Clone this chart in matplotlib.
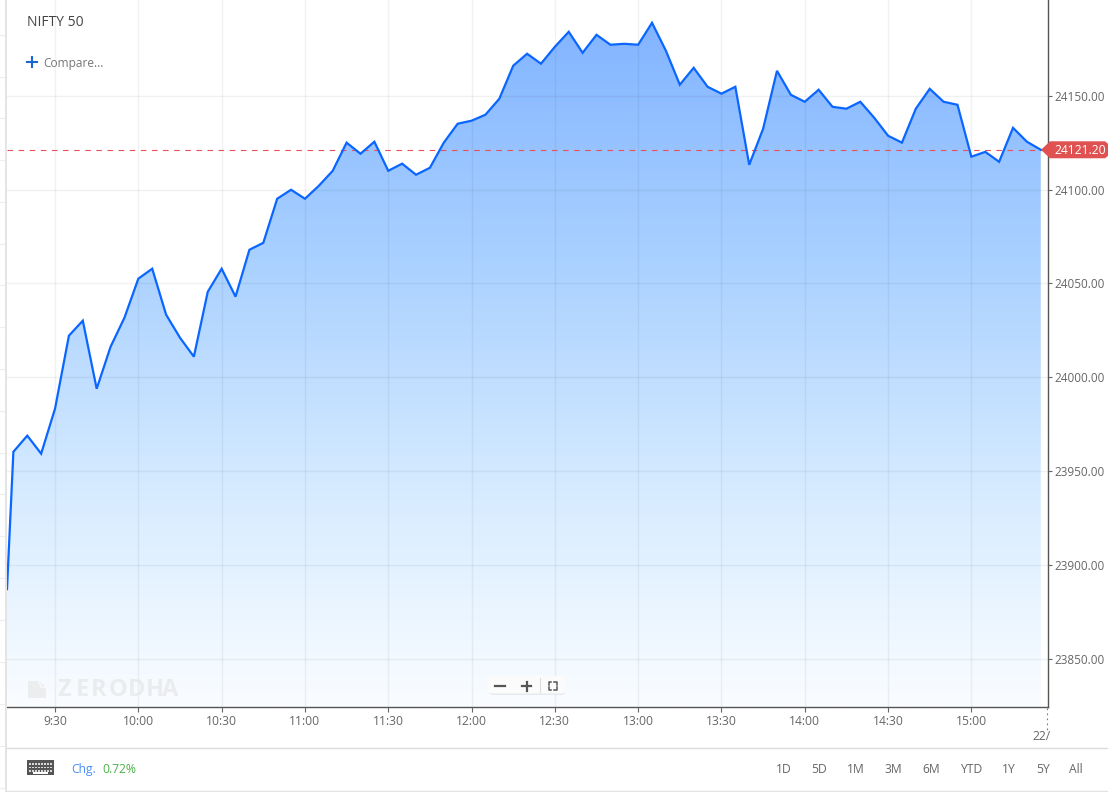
import numpy as np
import matplotlib
matplotlib.use("Agg")
import matplotlib.pyplot as plt
from matplotlib.colors import LinearSegmentedColormap
from matplotlib.patches import FancyBboxPatch, Polygon, Rectangle

plt.rcParams['font.family'] = ['Open Sans', 'DejaVu Sans']

W, H = 1108, 792

# minutes since midnight: opening tick, then one point every 5 minutes from 9:15
start_minute = 552.7
prices = [23887.0,
          23960.2, 23968.8, 23959.2, 23983.2, 24022.1, 24030.1, 23993.8, 24016.2,
          24031.7, 24052.5, 24057.8, 24033.3, 24021.0, 24010.9, 24045.5, 24057.8,
          24042.9, 24067.9, 24071.6, 24095.1, 24099.9, 24095.1, 24102.0, 24110.0,
          24125.0, 24119.1, 24125.5, 24110.0, 24113.8, 24107.9, 24111.6, 24125.0,
          24135.1, 24136.7, 24139.9, 24148.4, 24166.0, 24172.4, 24167.1, 24176.1,
          24184.1, 24172.9, 24182.5, 24177.2, 24177.7, 24177.2, 24188.9, 24174.0,
          24155.9, 24164.9, 24154.8, 24151.1, 24154.8, 24113.2, 24132.4, 24163.3,
          24150.5, 24146.8, 24153.2, 24144.1, 24143.1, 24146.8, 24138.3, 24128.7,
          24125.0, 24143.1, 24153.7, 24146.8, 24145.2, 24117.5, 24120.1, 24114.8,
          24132.9, 24125.5, 24121.2]
times = np.r_[start_minute, 555 + 5 * np.arange(len(prices) - 1)]
last_price = 24121.20

xtick_minutes = [570, 600, 630, 660, 690, 720, 750, 780, 810, 840, 870, 900]
xtick_labels = ['9:30', '10:00', '10:30', '11:00', '11:30', '12:00', '12:30',
                '13:00', '13:30', '14:00', '14:30', '15:00']
ytick_values = [23850, 23900, 23950, 24000, 24050, 24100, 24150]
range_labels = ['1D', '5D', '1M', '3M', '6M', 'YTD', '1Y', '5Y', 'All']
range_x = [784, 819, 856, 893, 931, 971, 1009, 1043, 1076]
strip_y = [35, 76.5, 118, 160, 202, 244, 285, 327, 369, 411, 453, 494, 536, 578,
           620, 662, 704, 746, 788]
watermark_letters = list('ZERODHA')
watermark_x = [64.5, 82, 99, 118, 137, 154.5, 170.5]

GREY = '#666666'
y_lo, y_hi = 23824.15, 24201.05

fig = plt.figure(figsize=(W / 100, H / 100), dpi=100)

# main chart, placed in pixels
left, right, bottom = 7, 1048, 707
ax = fig.add_axes([left / W, (H - bottom) / H, (right - left) / W, bottom / H])
ax.set_zorder(1)

grad = LinearSegmentedColormap.from_list('area', [
    (0.0, '#82b4ff'), (0.35, '#aad1ff'), (0.7, '#d8ecff'), (0.93, '#f2f9ff'), (1.0, '#fafcff')])
poly = ax.fill_between(times, prices, y_lo, color='none', lw=0)
im = ax.imshow(np.linspace(0, 1, 400)[:, None], cmap=grad, aspect='auto',
               extent=[552.7, 927.6, y_lo, max(prices)], zorder=1, vmin=0, vmax=1)
im.set_clip_path(poly.get_paths()[0], ax.transData)
ax.set_xlim(552.7, 927.6)
ax.set_ylim(y_lo, y_hi)

ax.set_axisbelow(False)
ax.grid(True, color='#102030', alpha=0.06, lw=1, zorder=2)
ax.plot(times, prices, color='#0a66ff', lw=1.6, zorder=4, solid_joinstyle='miter')
ax.axhline(last_price, color='#e8505a', lw=0.8, dashes=(5, 5), zorder=3)

ax.set_xticks(xtick_minutes)
ax.set_xticklabels(xtick_labels)
ax.set_yticks(ytick_values)
ax.set_yticklabels([f'{v:.2f}' for v in ytick_values])
ax.yaxis.tick_right()
ax.tick_params(axis='both', length=3.6, width=0.8, color='#666666', labelcolor=GREY,
               labelsize=8.7, pad=2)
ax.tick_params(axis='y', length=2.9, pad=2, labelsize=8.5)
for side in ['top', 'left']:
    ax.spines[side].set_visible(False)
for side in ['right', 'bottom']:
    ax.spines[side].set_color('#555555')
    ax.spines[side].set_linewidth(1)

# everything around the chart, drawn in pixel coordinates
ov = fig.add_axes([0, 0, 1, 1])
ov.set_xlim(0, W)
ov.set_ylim(H, 0)
ov.axis('off')
ov.patch.set_alpha(0)
ov.set_zorder(5)

ov.plot([5.8, 5.8], [0, H], color='#e2e2e2', lw=1.3)
for y in strip_y:
    ov.plot([0, 4], [y, y], color='#eeeeee', lw=0.8)

ov.text(27, 23, 'NIFTY 50', fontsize=10, color='#444444', va='center')
ov.text(43, 63, 'Compare...', fontsize=8.6, color='#777777', va='center')
ov.plot([27, 37], [61.5, 61.5], color='#1a66d0', lw=1.5)
ov.plot([32, 32], [56.5, 66.5], color='#1a66d0', lw=1.5)

# last price badge
y_last = H - ax.transData.transform((0, last_price))[1]
ov.add_patch(Polygon([(1041, y_last), (1050, y_last - 8.5), (1105, y_last - 8.5), (1108, y_last - 6),
                      (1108, y_last + 6), (1105, y_last + 8.5), (1050, y_last + 8.5)],
                     closed=True, fc='#e05252', ec='none'))
ov.text(1054, y_last + 0.5, f'{last_price:.2f}', color='white', fontsize=8.7, va='center')

# next day tick at the right edge, label cut by the axis end
ov.plot([1047, 1047], [708, 730], color='#777777', lw=0.8, dashes=(1.5, 3))
label_22 = ov.text(1032, 736, '22/', color=GREY, fontsize=8.7, va='center')
label_22.set_clip_path(Rectangle((1020, 725), 28, 20, transform=ov.transData))

# watermark
ov.add_patch(Polygon([(28, 681), (39, 681), (46, 688), (46, 698), (28, 698)],
                     closed=True, fc='#e8e8e8', ec='none', alpha=0.7))
ov.plot([39, 41, 46], [681, 687, 688], color='white', lw=0.8, alpha=0.8)
for letter, x in zip(watermark_letters, watermark_x):
    ov.text(x, 690, letter, fontsize=17, fontweight='bold', color='#e6e6e6', alpha=0.7,
            ha='center', va='center')

# zoom control
ov.add_patch(FancyBboxPatch((489, 677), 76, 18, boxstyle='round,pad=0,rounding_size=3',
                            fc='#dfe4e8', ec='none', alpha=0.7))
ov.add_patch(FancyBboxPatch((488, 676), 77, 17.5, boxstyle='round,pad=0,rounding_size=3',
                            fc='#fbfbfb', ec='none'))
ov.plot([495, 505], [686, 686], color='#555555', lw=1.6)
ov.plot([522, 531], [686, 686], color='#555555', lw=1.6)
ov.plot([526.5, 526.5], [681.5, 690.5], color='#555555', lw=1.6)
ov.plot([540, 540], [678, 692], color='#dddddd', lw=0.8)
for cx, cy, dx, dy in [(548.5, 682, 1, 1), (556.5, 682, -1, 1), (548.5, 689.5, 1, -1), (556.5, 689.5, -1, -1)]:
    ov.plot([cx + 2.5 * dx, cx, cx], [cy, cy, cy + 2.5 * dy], color='#555555', lw=1.1)

# footer
ov.plot([7, W], [747.5, 747.5], color='#dcdcdc', lw=1)
ov.plot([7, W], [791.3, 791.3], color='#e2e2e2', lw=1)
ov.add_patch(Rectangle((27, 760), 27, 15, fc='#555555', ec='none'))
for row, y in enumerate([763, 766.5, 770]):
    for kx in np.arange(29, 52, 3):
        ov.add_patch(Rectangle((kx, y), 2, 1.8, fc='#d8d8d8', ec='none'))
ov.add_patch(Rectangle((33, 772.3), 15, 1.4, fc='white', ec='none'))
ov.text(71, 769.5, 'Chg.', color='#4a8ff5', fontsize=8.7, va='center')
ov.text(102, 769.5, '0.72%', color='#4db04a', fontsize=8.7, va='center')
for lab, x in zip(range_labels, range_x):
    ov.text(x, 769.5, lab, color=GREY, fontsize=8.7, ha='center', va='center')

fig.savefig('out.png', dpi=100)
